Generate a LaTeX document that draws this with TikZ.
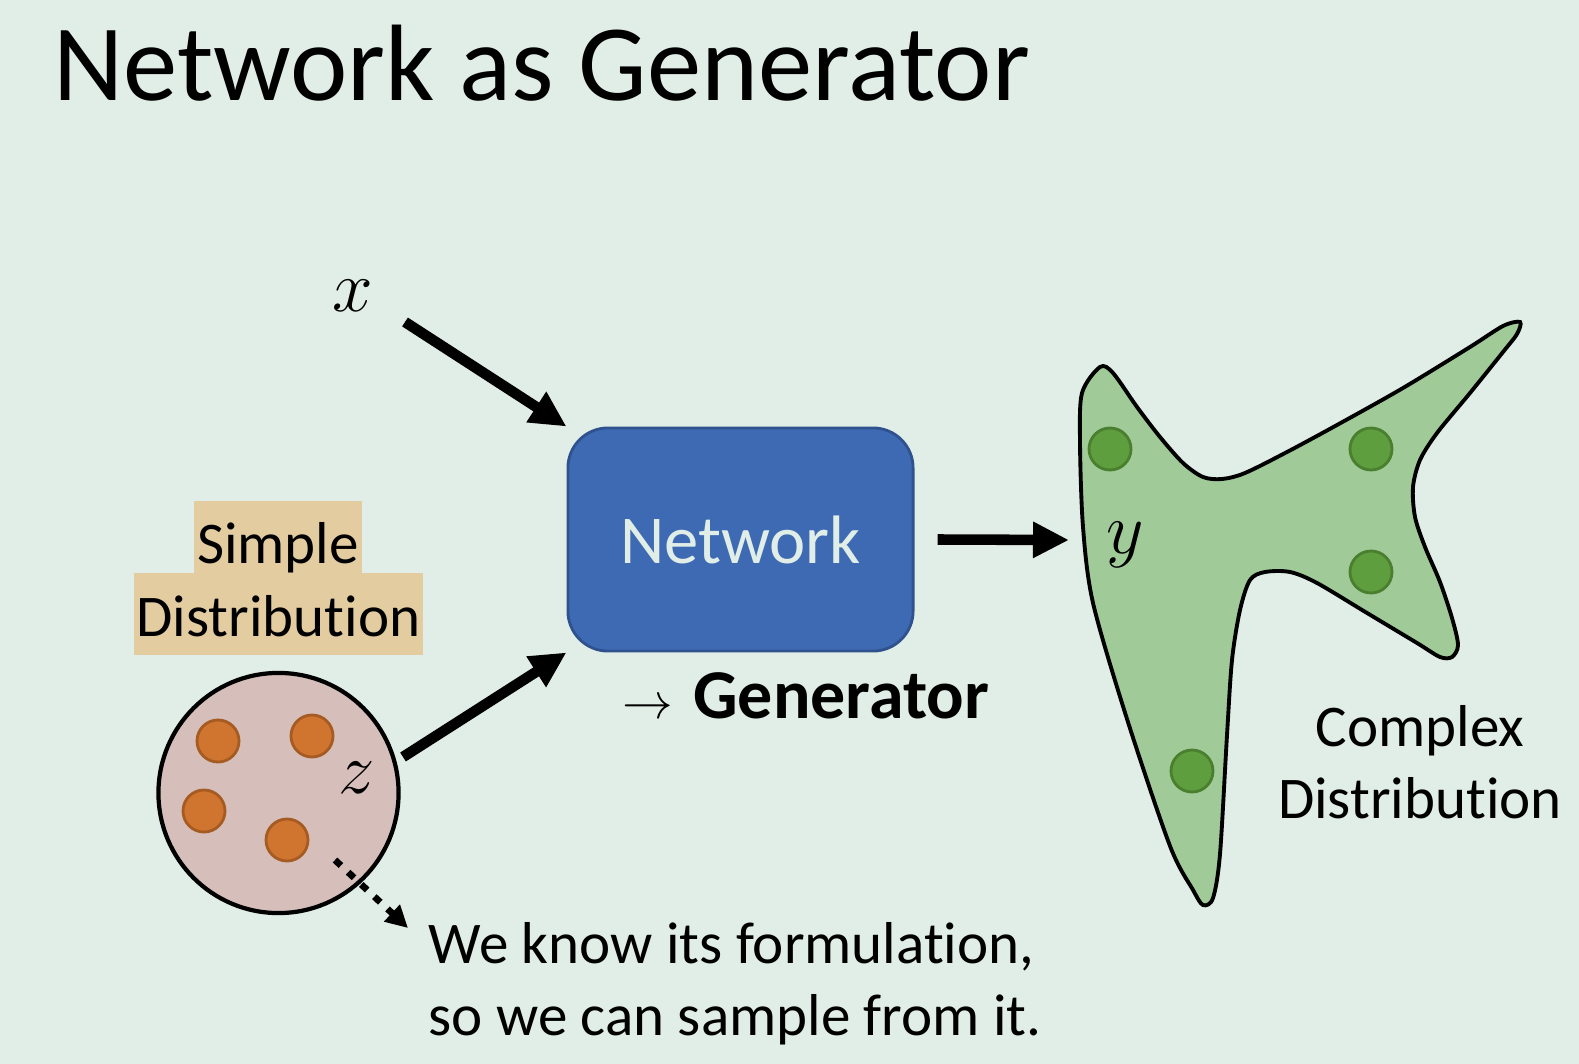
\documentclass[tikz,border=0pt]{standalone}
\usepackage{fontspec}
\setmainfont{Carlito}[Ligatures=NoCommon]
\usetikzlibrary{arrows.meta}
\definecolor{slidebg}{HTML}{E0EEE7}
\definecolor{netblue}{HTML}{3E6AB3}
\definecolor{netedge}{HTML}{2F528F}
\definecolor{tanhl}{HTML}{E2CCA0}
\definecolor{poppink}{HTML}{D6BFBA}
\definecolor{sampleorange}{HTML}{D07530}
\definecolor{sampleedge}{HTML}{A65B22}
\definecolor{blobgreen}{HTML}{A0CB98}
\definecolor{goodgreen}{HTML}{5E9E3E}
\definecolor{goodedge}{HTML}{4A7F30}
\begin{document}
\begin{tikzpicture}
	[x=0.01cm, y=-0.01cm,
	txt/.style={font=\fontsize{16.8}{20.3}\selectfont, inner sep=0pt},
	mathlbl/.style={font=\fontsize{20}{24}\selectfont, inner sep=0pt},
	bigarrow/.style={line width=3pt, -{Triangle[length=0.36cm, width=0.34cm]}},
	pinkdot/.style={circle, draw=sampleedge, line width=0.8pt, fill=sampleorange,
		minimum size=0.42cm, inner sep=0pt},
	greendot/.style={circle, draw=goodedge, line width=0.8pt, fill=goodgreen,
		minimum size=0.42cm, inner sep=0pt},
	]
	\fill[slidebg] (0,0) rectangle (1579,1064);
	\useasboundingbox (0,0) rectangle (1579,1064);
	
	\node[anchor=base west, inner sep=0pt, font=\fontsize{30.9}{36}\selectfont] (title) at (53,101) {Network as Generator};
	
	\node[rectangle, rounded corners=0.4cm, draw=netedge, line width=0.8pt, fill=netblue,
		text=slidebg, minimum width=3.45cm, minimum height=2.23cm,
		font=\fontsize{19.5}{23}\selectfont] (net) at (740.5,539.5) {Network};
	\node[anchor=base west, inner sep=0pt, font=\fontsize{19.9}{23}\selectfont] (gen) at (622,718)
		{{\fontsize{15}{18}\selectfont$\rightarrow$}\hspace{0.2cm}\textbf{Generator}};
	
	\node[mathlbl, anchor=base] (xlab) at (353,312) {$x$};
	\coordinate (xtail) at (405,322);
	\draw[bigarrow] (xtail) -- (net.north west);
	
	\node[txt, anchor=base, fill=tanhl, minimum width=1.68cm, text height=0.62cm, text depth=0.10cm] (simple) at (278,563) {Simple};
	\node[txt, anchor=base, fill=tanhl, minimum width=2.89cm, text height=0.63cm, text depth=0.19cm] (distr) at (278.5,636) {Distribution};
	
	\node[circle, draw, line width=1.2pt, fill=poppink, minimum size=2.4cm, inner sep=0pt] (pop) at (278.5,793) {};
	\node[pinkdot] (s1) at (218,741) {};
	\node[pinkdot] (s2) at (312,736) {};
	\node[pinkdot] (s3) at (204,811) {};
	\node[pinkdot] (s4) at (287,840) {};
	\node[mathlbl, anchor=base] (zlab) at (357,793) {$z$};
	\coordinate (ztail) at (403,757);
	\draw[bigarrow] (ztail) -- (net.south west);
	
	\coordinate (dtail) at (335,860);
	\coordinate (dhead) at (408,928);
	\draw[line width=1.9pt, dash pattern=on 2.3pt off 2.8pt, -{Triangle[length=0.22cm, width=0.22cm]}] (dtail) -- (dhead);
	\node[txt, anchor=base west, align=left] (note) at (428,1035) {We know its formulation,\\so we can sample from it.};
	
	\draw[line width=1.1pt, fill=blobgreen] plot[smooth cycle, tension=0.5] coordinates {
		(1100,367) (1113,373) (1137,407) (1160,437) (1183,463) (1203,477) (1222,479)
		(1245,473) (1287,452) (1337,425) (1403,388) (1470,347) (1503,326) (1520,322)
		(1517,334) (1503,352) (1470,393) (1437,433) (1420,460) (1413,487) (1415,517)
		(1425,547) (1440,582) (1452,618) (1458,645) (1452,657) (1440,657) (1417,643)
		(1367,613) (1317,583) (1290,572) (1265,572) (1250,580) (1240,610) (1232,660)
		(1227,735) (1220,854) (1213,898) (1203,905) (1193,890) (1170,846) (1127,719)
		(1093,603) (1083,527) (1080,443) (1082,393)};
	\node[greendot] (g1) at (1110,449) {};
	\node[greendot] (g2) at (1371,449) {};
	\node[greendot] (g3) at (1371,572) {};
	\node[greendot] (g4) at (1192,771) {};
	\node[mathlbl, anchor=base] (ylab) at (1125,553) {$y$};
	\coordinate (yhead) at (1069,540);
	\draw[bigarrow] ([xshift=0.23cm]net.east) -- (yhead);
	
	\node[txt, anchor=base, align=center] (cplx) at (1420,818) {Complex\\Distribution};
\end{tikzpicture}
\end{document}
